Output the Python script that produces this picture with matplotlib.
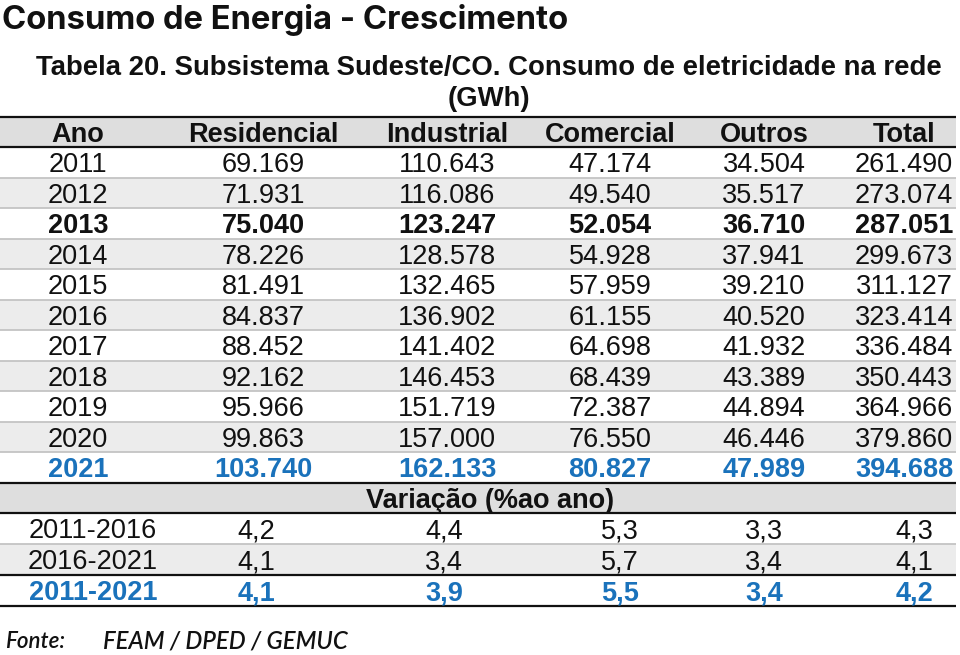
import matplotlib
matplotlib.use("Agg")
import matplotlib.pyplot as plt
from matplotlib import font_manager as fm
from matplotlib.textpath import TextPath

# ---------------- data ----------------
title = "Consumo de Energia - Crescimento"
subtitle_line1 = "Tabela 20. Subsistema Sudeste/CO. Consumo de eletricidade na rede"
subtitle_line2 = "(GWh)"
columns = ["Ano", "Residencial", "Industrial", "Comercial", "Outros", "Total"]
years = [2011, 2012, 2013, 2014, 2015, 2016, 2017, 2018, 2019, 2020, 2021]
residencial = [69169, 71931, 75040, 78226, 81491, 84837, 88452, 92162, 95966, 99863, 103740]
industrial = [110643, 116086, 123247, 128578, 132465, 136902, 141402, 146453, 151719, 157000, 162133]
comercial = [47174, 49540, 52054, 54928, 57959, 61155, 64698, 68439, 72387, 76550, 80827]
outros = [34504, 35517, 36710, 37941, 39210, 40520, 41932, 43389, 44894, 46446, 47989]
total = [261490, 273074, 287051, 299673, 311127, 323414, 336484, 350443, 364966, 379860, 394688]
variation_title = "Variação (%ao ano)"
periods = ["2011-2016", "2016-2021", "2011-2021"]
var_residencial = [4.2, 4.1, 4.1]
var_industrial = [4.4, 3.4, 3.9]
var_comercial = [5.3, 5.7, 5.5]
var_outros = [3.3, 3.4, 3.4]
var_total = [4.3, 4.1, 4.2]
source_label = "Fonte:"
source_text = "FEAM / DPED / GEMUC"
bold_black_years = [2013]
highlight_year = 2021
highlight_period = "2011-2021"

# ---------------- styling ----------------
W, H = 960, 655
BLUE = "#1a72bb"
HEAD_BG = "#dedede"
ALT_BG = "#ececec"
SEP = "#c4c4c4"
TFONT = "Liberation Sans"
FS = 19.5
TITLE_CAP_PX = 24.0
TITLE_W_PX = 567.0
SANS_FAMILIES = {"open sans", "noto sans", "roboto", "lato", "dejavu sans",
                 "liberation sans", "inter"}
WIDTH_WORDS = ["semicondensed", "semi condensed", "condensed", "narrow"]


def _w(e):
    w = e.weight
    if isinstance(w, str):
        w = fm.weight_dict.get(w, 400)
    return w


def _base_family(name):
    n = name.lower()
    for word in WIDTH_WORDS:
        n = n.replace(word, "")
    return " ".join(n.split())


def pick_title_font():
    """Choose the installed bold upright sans face whose width at the target cap
    height is closest to the target width."""
    best = None
    seen = set()
    for e in fm.fontManager.ttflist:
        if e.style != "normal" or not (700 <= _w(e) <= 800):
            continue
        if e.fname in seen or _base_family(e.name) not in SANS_FAMILIES:
            continue
        seen.add(e.fname)
        try:
            fp = fm.FontProperties(fname=e.fname)
            capr = TextPath((0, 0), "H", prop=fp, size=1).get_extents().height
            wr = TextPath((0, 0), title, prop=fp, size=1).get_extents().width
        except Exception:
            continue
        if capr <= 0:
            continue
        em = TITLE_CAP_PX / capr
        score = abs(wr * em - TITLE_W_PX)
        if best is None or score < best[0]:
            best = (score, fp, em)
    return best


fig = plt.figure(figsize=(W / 100, H / 100), dpi=100)
ax = fig.add_axes([0, 0, 1, 1])
ax.set_xlim(0, W)
ax.set_ylim(H, 0)
ax.axis("off")
renderer = fig.canvas.get_renderer()


def fit_text(x, y, s, width, **kw):
    t = ax.text(x, y, s, **kw)
    bb = t.get_window_extent(renderer=renderer)
    t.set_fontsize(t.get_fontsize() * width / bb.width)
    return t


def fmt_int(v):
    return f"{v:,}".replace(",", ".")


def fmt_pct(v):
    return f"{v:.1f}".replace(".", ",")


# titles
choice = pick_title_font()
if choice is not None:
    _, tfp, em_px = choice
    t = ax.text(2, 29, title, fontproperties=tfp, ha="left", va="baseline", color="#111111")
    t.set_fontsize(em_px * 0.72)
    bb = t.get_window_extent(renderer=renderer)
    ratio = TITLE_W_PX / bb.width
    if 0.92 < ratio < 1.08:
        t.set_fontsize(t.get_fontsize() * ratio)
else:
    fit_text(2, 29, title, TITLE_W_PX, fontsize=24, family=["Lato", "DejaVu Sans"],
             fontweight="bold", ha="left", va="baseline", color="#111111")
st = fit_text(489, 75, subtitle_line1, 906, fontsize=17, family=TFONT,
              fontweight="bold", ha="center", va="baseline", color="#111111")
ax.text(489, 106, subtitle_line2, fontsize=st.get_fontsize(), family=TFONT,
        fontweight="bold", ha="center", va="baseline", color="#111111")

# table geometry
x0, x1 = 0, 956
head_top, head_bot = 117, 147
data_bot = 483
nrows = len(years)
row_h = (data_bot - head_bot) / nrows
var_head_bot = 513
var_bounds = [513, 544, 575, 606]
col_x = [78, 263, 447, 610, 764, 904]
var_x = [93, 256, 444, 620, 764, 914]
cap = 0.5 * 0.716 * FS * 100 / 72  # half cap height in px

# backgrounds
ax.fill_between([x0, x1], head_top, head_bot, color=HEAD_BG, lw=0)
ax.fill_between([x0, x1], data_bot, var_head_bot, color=HEAD_BG, lw=0)
for i in range(nrows):
    if i % 2 == 1:
        ax.fill_between([x0, x1], head_bot + i * row_h, head_bot + (i + 1) * row_h,
                        color=ALT_BG, lw=0)
for i in range(len(periods)):
    if i % 2 == 1:
        ax.fill_between([x0, x1], var_bounds[i], var_bounds[i + 1], color=ALT_BG, lw=0)

# separators
for i in range(1, nrows):
    y = head_bot + i * row_h
    ax.plot([x0, x1], [y, y], color=SEP, lw=1.3, solid_capstyle="butt")
ax.plot([x0, x1], [var_bounds[1]] * 2, color=SEP, lw=1.3, solid_capstyle="butt")
for y in [head_top, head_bot, data_bot, var_head_bot, var_bounds[2], var_bounds[3]]:
    ax.plot([x0, x1], [y, y], color="#111111", lw=1.6, solid_capstyle="butt")

# header
yc = (head_top + head_bot) / 2
for x, c in zip(col_x, columns):
    ax.text(x, yc + cap, c, fontsize=FS, family=TFONT, fontweight="bold",
            ha="center", va="baseline", color="#111111")

# data rows
series = [residencial, industrial, comercial, outros, total]
for i, yr in enumerate(years):
    yc = head_bot + (i + 0.5) * row_h
    if yr == highlight_year:
        color, weight = BLUE, "bold"
    elif yr in bold_black_years:
        color, weight = "#111111", "bold"
    else:
        color, weight = "#111111", "normal"
    vals = [str(yr)] + [fmt_int(s[i]) for s in series]
    for x, v in zip(col_x, vals):
        ax.text(x, yc + cap, v, fontsize=FS, family=TFONT, fontweight=weight,
                ha="center", va="baseline", color=color)

# variation header
yc = (data_bot + var_head_bot) / 2
ax.text(490, yc + cap, variation_title, fontsize=FS, family=TFONT, fontweight="bold",
        ha="center", va="baseline", color="#111111")

vseries = [var_residencial, var_industrial, var_comercial, var_outros, var_total]
for i, p in enumerate(periods):
    yc = (var_bounds[i] + var_bounds[i + 1]) / 2
    if p == highlight_period:
        color, weight = BLUE, "bold"
    else:
        color, weight = "#111111", "normal"
    vals = [p] + [fmt_pct(s[i]) for s in vseries]
    for x, v in zip(var_x, vals):
        ax.text(x, yc + cap, v, fontsize=FS, family=TFONT, fontweight=weight,
                ha="center", va="baseline", color=color)

# source
fit_text(5, 648, source_label, 60, fontsize=16, family=["Lato", "DejaVu Sans"],
         style="italic", fontweight="semibold", ha="left", va="baseline", color="#111111")
fit_text(103, 648, source_text, 245, fontsize=16, family=["Lato", "DejaVu Sans"],
         style="italic", fontweight="semibold", ha="left", va="baseline", color="#111111")

fig.savefig("out.png", dpi=100)
